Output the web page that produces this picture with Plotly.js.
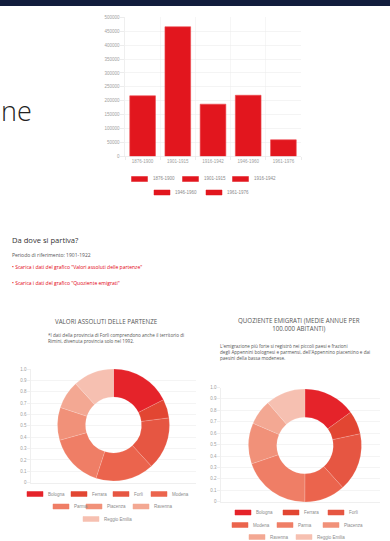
<!DOCTYPE html>
<html><head><meta charset="utf-8">
<script src="https://cdn.plot.ly/plotly-3.0.1.min.js"></script>
<style>html,body{margin:0;padding:0;background:#fff;}#c{width:390px;height:541px;}</style>
</head><body><div id="c"></div>
<script>
// ---- data ----
const periods = ["1876-1900", "1901-1915", "1916-1942", "1946-1960", "1961-1976"];
const departures = [218000, 466000, 188000, 220000, 60000];
const barTicks = [0, 50000, 100000, 150000, 200000, 250000, 300000, 350000, 400000, 450000, 500000];

const provinces = ["Bologna", "Ferrara", "Forlì", "Modena", "Parma", "Piacenza", "Ravenna", "Reggio Emilia"];
const absoluteDepartures = [52000, 16000, 45000, 50000, 46000, 28000, 24000, 35000];
const emigrationQuotient = [1500, 670, 1670, 1170, 1970, 1170, 720, 1140];
const provinceColors = ["#e5232a", "#e24632", "#e65642", "#eb644d", "#ef7e66", "#f19179", "#f3a893", "#f6c0b1"];
const gridTickVals = [0, 0.1, 0.2, 0.3, 0.4, 0.5, 0.6, 0.7, 0.8, 0.9, 1.0];
const gridTickText = ["0", "0.1", "0.2", "0.3", "0.4", "0.5", "0.6", "0.7", "0.8", "0.9", "1.0"];

// ---- helpers (pixel -> paper) ----
const W = 390, H = 541;
const X = p => p / W;
const Y = p => 1 - p / H;
const chartFont = "Liberation Sans, Arial, sans-serif";
const textFont = "Open Sans, Lato, sans-serif";
const tickFont = {family: chartFont, size: 4.5, color: "#a0a0a0"};
const barColor = "#e2161e";

const traces = [];
const shapes = [];
const annotations = [];

// bar chart
periods.forEach((p, i) => {
  traces.push({type: "bar", x: [p], y: [departures[i]], name: p, width: 0.73,
    marker: {color: barColor, line: {color: "#ec4a4f", width: 0.6}},
    xaxis: "x", yaxis: "y", hoverinfo: "none"});
});

// donut grids (empty traces so the cartesian subplots are drawn)
traces.push({type: "scatter", x: [], y: [], xaxis: "x2", yaxis: "y2", hoverinfo: "none"});
traces.push({type: "scatter", x: [], y: [], xaxis: "x3", yaxis: "y3", hoverinfo: "none"});

// donuts
const donut = (values, cx, cy, r) => ({
  type: "pie", labels: provinces, values: values, hole: 0.5, sort: false,
  direction: "clockwise", rotation: 0, textinfo: "none", hoverinfo: "none",
  marker: {colors: provinceColors, line: {color: "rgba(255,255,255,0.35)", width: 0.4}},
  domain: {x: [X(cx - r), X(cx + r)], y: [Y(cy + r), Y(cy - r)]}
});
traces.push(donut(absoluteDepartures, 113.5, 425, 56));
traces.push(donut(emigrationQuotient, 305, 445.5, 56.5));

// legends (manual, Chart.js style)
function legendItem(x, y, color, label) {
  shapes.push({type: "rect", xref: "paper", yref: "paper", x0: X(x), x1: X(x + 16), y0: Y(y + 2.5), y1: Y(y - 2.5),
    fillcolor: color, line: {width: 0.5, color: color}});
  annotations.push({xref: "paper", yref: "paper", x: X(x + 19), y: Y(y), xanchor: "left", yanchor: "middle",
    text: label, showarrow: false, font: {family: chartFont, size: 4.5, color: "#8a8a8a"}});
}
const barLegendPos = [[131.5, 179], [182.5, 179], [232.5, 179], [154, 192.5], [206, 192.5]];
periods.forEach((p, i) => legendItem(barLegendPos[i][0], barLegendPos[i][1], barColor, p));

const leftLegendPos = [[27, 494], [71, 494], [113, 494], [151, 494], [53, 506.5], [86, 506.5], [133, 506.5], [83, 519]];
const rightLegendPos = [[235, 512.5], [283, 512.5], [328, 512.5], [232, 525], [277, 525], [323, 525], [249, 537], [296, 537]];
provinces.forEach((p, i) => {
  legendItem(leftLegendPos[i][0], leftLegendPos[i][1], provinceColors[i], p);
  legendItem(rightLegendPos[i][0], rightLegendPos[i][1], provinceColors[i], p);
});

// top navy bar
shapes.push({type: "rect", xref: "paper", yref: "paper", x0: 0, x1: 1, y0: Y(6), y1: 1, fillcolor: "#111d3c", line: {width: 0}, layer: "above"});

// texts
function txt(text, x, y, size, color, opts) {
  annotations.push(Object.assign({xref: "paper", yref: "paper", x: X(x), y: Y(y), xanchor: "left", yanchor: "middle",
    text: text, showarrow: false, align: "left",
    font: {family: textFont, size: size, color: color}}, opts || {}));
}
txt("ne", -1.5, 110, 27, "#1d1d1d", {font: {family: textFont, size: 27, color: "#222", weight: 300}});
txt("Da dove si partiva?", 9.5, 240, 7.6, "#333", {font: {family: textFont, size: 7.6, color: "#333", weight: 500}});
txt("Periodo di riferimento: 1901-1922", 9.5, 255, 5, "#555");
txt("• Scarica i dati del grafico \"Valori assoluti delle partenze\"", 9.5, 267.5, 5, "#e3000f");
txt("• Scarica i dati del grafico \"Quoziente emigrati\"", 9.5, 282.5, 5, "#e3000f");
txt("VALORI ASSOLUTI DELLE PARTENZE", 106.5, 321.5, 6.2, "#555", {xanchor: "center"});
txt("*I dati della provincia di Forlì comprendono anche il territorio di<br>Rimini, divenuta provincia solo nel 1992.", 46, 337.5, 4.6, "#555");
txt("QUOZIENTE EMIGRATI (MEDIE ANNUE PER<br>100.000 ABITANTI)", 298.5, 324, 6.2, "#555", {xanchor: "center", align: "center"});
txt("L'emigrazione più forte si registrò nei piccoli paesi e frazioni<br>degli Appennini bolognesi e parmensi, dell'Appennino piacentino e dai<br>paesini della bassa modenese.", 217.5, 352, 4.6, "#555");

const gridAxis = (domX, domY) => ({
  y: {domain: [Y(domY[1]), Y(domY[0])], range: [0, 1], tickvals: gridTickVals, ticktext: gridTickText,
      showgrid: true, gridcolor: "#ececec", gridwidth: 0.6, zeroline: false, showline: true, linecolor: "#e4e4e4", linewidth: 0.6,
      ticks: "outside", ticklen: 3, tickcolor: "#e4e4e4", tickwidth: 0.6, tickfont: tickFont, fixedrange: true},
  x: {domain: [X(domX[0]), X(domX[1])], range: [0, 1], showgrid: false, zeroline: false, showticklabels: false,
      showline: true, linecolor: "#e4e4e4", linewidth: 0.6, fixedrange: true}
});
const g1 = gridAxis([31, 196], [369, 482.7]);
const g2 = gridAxis([221, 380], [387.5, 501.7]);

const layout = {
  width: W, height: H, margin: {l: 0, r: 0, t: 0, b: 0}, paper_bgcolor: "#fff", plot_bgcolor: "rgba(0,0,0,0)",
  showlegend: false, barmode: "overlay",
  xaxis: {domain: [X(125), X(301)], type: "category", categoryorder: "array", categoryarray: periods,
    tickson: "boundaries", showgrid: true, gridcolor: "#f0f0f0", gridwidth: 0.6, ticks: "outside", ticklen: 3,
    tickcolor: "#ececec", tickfont: tickFont, showline: true, linecolor: "#e4e4e4", linewidth: 0.6, fixedrange: true},
  yaxis: {domain: [Y(156.5), Y(17.3)], range: [0, 500000], tickvals: barTicks, tickformat: "d",
    showgrid: true, gridcolor: "#ececec", gridwidth: 0.6, zeroline: false, ticks: "outside", ticklen: 4,
    tickcolor: "#ececec", tickfont: tickFont, showline: true, linecolor: "#e4e4e4", linewidth: 0.6, fixedrange: true},
  xaxis2: Object.assign({anchor: "y2"}, g1.x), yaxis2: Object.assign({anchor: "x2"}, g1.y),
  xaxis3: Object.assign({anchor: "y3"}, g2.x), yaxis3: Object.assign({anchor: "x3"}, g2.y),
  shapes: shapes, annotations: annotations
};
Plotly.newPlot("c", traces, layout, {staticPlot: true, displayModeBar: false});
</script></body></html>
